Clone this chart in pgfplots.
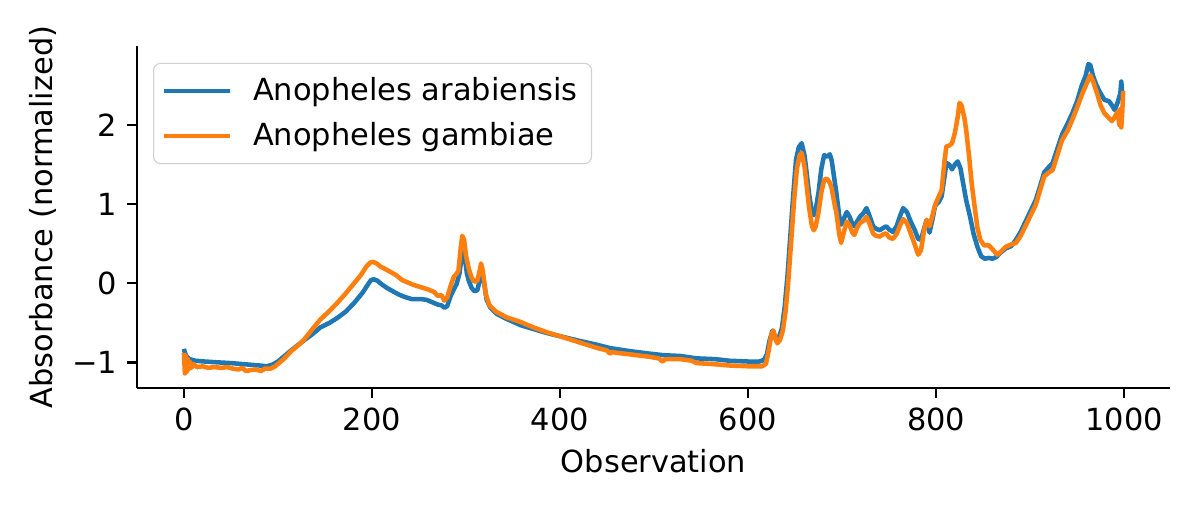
\documentclass[border=0pt]{standalone}
\usepackage{pgfplots}
\pgfplotsset{compat=1.18}
\usepackage{fontspec}
\setmainfont{DejaVu Sans}
\definecolor{c0}{HTML}{1F77B4}
\definecolor{c1}{HTML}{FF7F0E}
\begin{document}
\begin{tikzpicture}
\useasboundingbox (-49.5pt,-42.6pt) rectangle (384.1pt,140.2pt);
\begin{axis}[
  scale only axis, width=373.3pt, height=123.6pt,
  at={(0pt,0pt)}, anchor=south west,
  xmin=-49.95, xmax=1048.95, ymin=-1.325, ymax=3.0,
  axis x line*=bottom, axis y line*=left,
  axis line style={line width=0.87pt,-},
  tick style={line width=0.87pt,black}, major tick length=3.6pt, tick align=outside,
  xtick={0,200,400,600,800,1000}, xticklabels={0,200,400,600,800,1000},
  ytick={-1,0,1,2}, yticklabels={−1,0,1,2},
  ticklabel style={font=\fontsize{11}{13}\selectfont},
  label style={font=\fontsize{11}{13}\selectfont},
  xlabel={Observation}, ylabel={Absorbance (normalized)},
  ylabel style={xshift=0pt, yshift=-1.2pt},
  legend cell align=left,
  legend style={at={(rel axis cs:0,1)}, xshift=5.8pt, yshift=-6.1pt, anchor=north west,
    draw=black!18, rounded corners=2.5pt, fill=white, fill opacity=0.8, text opacity=1,
    font=\fontsize{11}{13}\selectfont, inner xsep=3pt, inner ysep=3pt, row sep=2.5pt},
  legend image code/.code={\draw[#1] (0pt,0pt) -- (23.9pt,0pt); \path (29.3pt,0pt);},
]
\addplot[c0, line width=1.64pt, line join=round] coordinates {
(0,-0.83)(1,-0.88)(3,-0.93)(6,-0.96)(12,-0.98)(22,-0.99)(35,-1.00)(50,-1.01)(60,-1.02)(70,-1.03)
(80,-1.04)(88,-1.05)(94,-1.03)(100,-0.99)(106,-0.93)(115,-0.84)(128,-0.72)(137,-0.64)(145,-0.56)
(155,-0.50)(163,-0.44)(172,-0.36)(181,-0.25)(190,-0.12)(196,-0.01)(199,0.04)(202,0.05)(206,0.03)
(211,-0.02)(216,-0.06)(222,-0.10)(228,-0.14)(234,-0.17)(242,-0.20)(252,-0.20)(258,-0.21)(264,-0.24)
(270,-0.27)(274,-0.28)(277,-0.31)(280,-0.29)(284,-0.15)(287,-0.08)(290,-0.01)(293,0.12)(295,0.30)
(297,0.42)(299,0.30)(301,0.12)(303,0.03)(306,-0.06)(309,-0.10)(312,-0.09)(315,0.05)(317,0.15)
(319,0.02)(322,-0.21)(326,-0.31)(333,-0.39)(343,-0.45)(358,-0.53)(372,-0.58)(386,-0.63)(400,-0.67)
(421,-0.73)(440,-0.78)(453,-0.82)(475,-0.86)(495,-0.89)(510,-0.91)(528,-0.92)(545,-0.95)(565,-0.96)
(580,-0.98)(600,-0.99)(612,-0.99)(617,-0.97)(620,-0.90)(623,-0.72)(626,-0.60)(628,-0.65)(630,-0.73)
(633,-0.68)(636,-0.57)(639,-0.30)(642,0.10)(645,0.60)(648,1.10)(651,1.56)(654,1.72)(657,1.77)
(660,1.62)(662,1.43)(665,1.12)(668,0.90)(670,0.86)(672,0.93)(675,1.15)(678,1.45)(681,1.62)(684,1.60)
(687,1.63)(689,1.55)(692,1.30)(694,1.14)(697,0.85)(699,0.74)(702,0.82)(705,0.90)(708,0.84)(711,0.75)
(713,0.72)(716,0.78)(719,0.84)(723,0.89)(726,0.95)(729,0.86)(733,0.72)(736,0.69)(740,0.67)(744,0.70)
(747,0.72)(750,0.68)(754,0.65)(758,0.72)(762,0.86)(765,0.95)(769,0.90)(773,0.78)(777,0.68)(781,0.56)
(784,0.55)(787,0.68)(790,0.80)(793,0.64)(796,0.80)(799,0.98)(803,1.03)(806,1.10)(809,1.35)(811,1.52)
(814,1.50)(817,1.44)(820,1.50)(823,1.54)(826,1.45)(829,1.25)(832,1.05)(836,0.85)(840,0.62)(844,0.46)
(848,0.34)(852,0.31)(856,0.32)(860,0.31)(864,0.33)(868,0.38)(874,0.44)(880,0.47)(885,0.55)(890,0.65)
(896,0.80)(902,0.95)(906,1.05)(910,1.20)(915,1.40)(920,1.47)(924,1.52)(929,1.70)(934,1.88)(940,2.02)
(945,2.15)(950,2.30)(955,2.50)(959,2.62)(962,2.77)(964,2.76)(967,2.62)(970,2.52)(974,2.42)(979,2.32)
(984,2.30)(987,2.25)(990,2.19)(993,2.28)(996,2.40)(997,2.55)(998,2.40)
};
\addlegendentry{Anopheles arabiensis}
\addplot[c1, line width=1.64pt, line join=round] coordinates {
(0,-0.88)(1,-1.14)(2,-0.92)(3,-1.12)(4,-0.96)(5,-1.09)(6,-0.99)(8,-1.07)(10,-1.02)(14,-1.06)
(20,-1.05)(26,-1.07)(32,-1.06)(40,-1.07)(46,-1.06)(52,-1.08)(58,-1.09)(62,-1.07)(66,-1.11)(70,-1.10)
(76,-1.09)(82,-1.11)(86,-1.08)(92,-1.08)(97,-1.05)(101,-1.01)(106,-0.96)(114,-0.86)(122,-0.78)
(128,-0.71)(136,-0.59)(145,-0.46)(154,-0.36)(163,-0.25)(172,-0.13)(181,0.00)(188,0.10)(194,0.21)
(198,0.26)(201,0.27)(205,0.25)(209,0.21)(214,0.18)(220,0.14)(226,0.10)(232,0.04)(238,0.01)(244,-0.02)
(252,-0.05)(260,-0.08)(266,-0.11)(270,-0.16)(274,-0.15)(277,-0.22)(280,-0.18)(284,-0.02)(287,0.08)
(290,0.12)(292,0.16)(294,0.40)(296,0.60)(298,0.55)(300,0.35)(303,0.18)(306,0.07)(309,0.02)(312,0.03)
(315,0.18)(316,0.25)(318,0.15)(321,-0.14)(325,-0.28)(332,-0.36)(343,-0.43)(358,-0.49)(372,-0.56)
(386,-0.62)(400,-0.67)(421,-0.75)(440,-0.82)(450,-0.85)(453,-0.89)(456,-0.87)(460,-0.88)(475,-0.90)
(495,-0.93)(505,-0.95)(509,-0.99)(512,-0.96)(528,-0.96)(540,-0.98)(545,-1.01)(560,-1.02)(580,-1.04)
(600,-1.05)(615,-1.05)(619,-1.02)(622,-0.85)(625,-0.64)(627,-0.60)(629,-0.68)(631,-0.76)(634,-0.72)
(637,-0.60)(640,-0.35)(643,0.05)(646,0.55)(649,1.05)(652,1.45)(655,1.62)(657,1.65)(660,1.48)(662,1.27)
(665,0.95)(668,0.72)(670,0.67)(672,0.72)(675,0.90)(678,1.15)(681,1.31)(684,1.32)(687,1.27)(689,1.20)
(692,1.00)(694,0.89)(697,0.62)(699,0.51)(702,0.65)(705,0.78)(708,0.73)(711,0.64)(713,0.61)(716,0.70)
(719,0.76)(723,0.79)(726,0.84)(729,0.76)(733,0.63)(736,0.60)(740,0.59)(744,0.62)(747,0.63)(750,0.58)
(754,0.56)(758,0.62)(762,0.74)(765,0.81)(769,0.76)(773,0.63)(777,0.50)(781,0.36)(784,0.42)(787,0.65)
(790,0.80)(793,0.72)(796,0.85)(799,0.99)(803,1.10)(806,1.18)(809,1.55)(811,1.73)(814,1.74)(817,1.77)
(820,1.90)(823,2.10)(825,2.28)(827,2.25)(830,2.10)(832,1.94)(835,1.62)(838,1.25)(841,0.97)(844,0.70)
(847,0.55)(851,0.48)(856,0.48)(860,0.43)(865,0.36)(869,0.40)(874,0.46)(880,0.49)(885,0.51)(890,0.60)
(895,0.72)(899,0.82)(906,0.99)(910,1.15)(915,1.35)(920,1.40)(924,1.43)(929,1.62)(934,1.81)(940,1.93)
(945,2.07)(950,2.22)(955,2.38)(960,2.52)(964,2.63)(967,2.55)(971,2.41)(975,2.25)(979,2.15)(983,2.10)
(987,2.05)(990,2.10)(993,2.17)(995,2.00)(996,2.20)(997,1.97)(998,2.15)(999,2.43)
};
\addlegendentry{Anopheles gambiae}
\end{axis}
\end{tikzpicture}
\end{document}
